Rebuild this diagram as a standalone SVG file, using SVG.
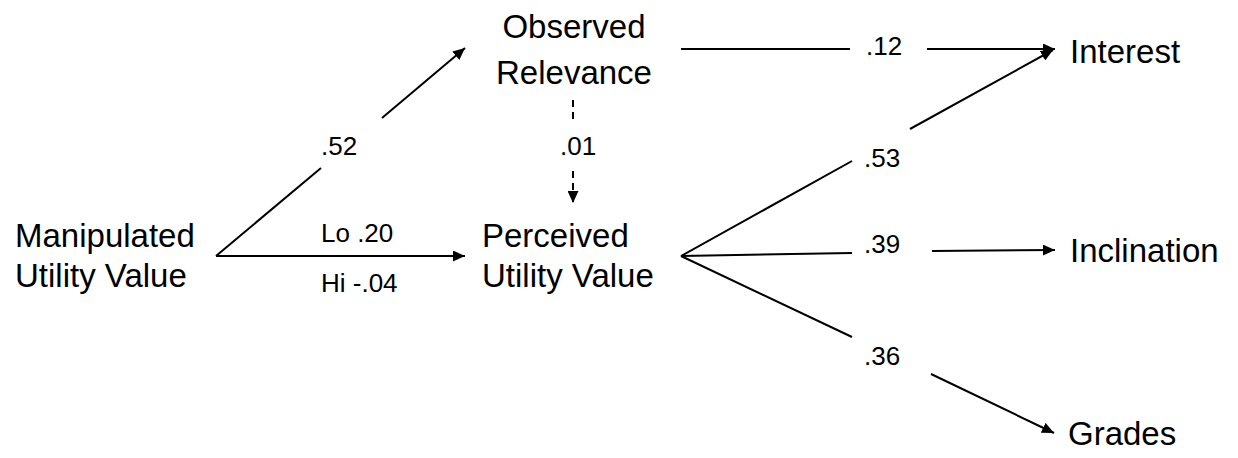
<svg xmlns="http://www.w3.org/2000/svg" width="1238" height="458" viewBox="0 0 1238 458">
  <style>
    .node { font-family: "Liberation Sans", Arial, sans-serif; font-size: 33px; fill: #000; }
    .coef { font-family: "Liberation Sans", Arial, sans-serif; font-size: 26px; fill: #000; }
    .edge { fill: none; stroke: #000; stroke-width: 2; }
    .dashed { stroke-dasharray: 7 5; }
  </style>
  <defs>
    <marker id="arrow" markerUnits="userSpaceOnUse" markerWidth="12" markerHeight="11" refX="12" refY="5.5" orient="auto">
      <path d="M0,0 L12,5.5 L0,11 z" fill="#000"/>
    </marker>
  </defs>
  <rect width="1238" height="458" fill="#fff"/>

  <!-- path connectors, split around their coefficient labels -->
  <g id="connectors">
    <!-- Manipulated -> Observed Relevance -->
    <line class="edge" x1="216" y1="256" x2="321" y2="168"/>
    <line class="edge" x1="382" y1="118" x2="465" y2="48" marker-end="url(#arrow)"/>
    <!-- Manipulated -> Perceived -->
    <line class="edge" x1="216" y1="256" x2="465" y2="256" marker-end="url(#arrow)"/>
    <!-- Observed Relevance -> Perceived (dashed) -->
    <line class="edge dashed" x1="573" y1="100" x2="573" y2="120"/>
    <line class="edge dashed" x1="573" y1="171" x2="573" y2="203" marker-end="url(#arrow)"/>
    <!-- Observed Relevance -> Interest -->
    <line class="edge" x1="681" y1="49" x2="850" y2="49"/>
    <line class="edge" x1="927" y1="49" x2="1055" y2="49" marker-end="url(#arrow)"/>
    <!-- Perceived -> Interest -->
    <line class="edge" x1="681" y1="256" x2="852" y2="161"/>
    <line class="edge" x1="910" y1="129" x2="1053" y2="50" marker-end="url(#arrow)"/>
    <!-- Perceived -> Inclination -->
    <line class="edge" x1="681" y1="256" x2="852" y2="253"/>
    <line class="edge" x1="932" y1="251" x2="1055" y2="250" marker-end="url(#arrow)"/>
    <!-- Perceived -> Grades -->
    <line class="edge" x1="681" y1="256" x2="852" y2="337"/>
    <line class="edge" x1="931" y1="374" x2="1054" y2="433" marker-end="url(#arrow)"/>
  </g>

  <!-- coefficients -->
  <g id="coefficients">
    <text class="coef" x="321" y="155">.52</text>
    <text class="coef" x="321" y="242">Lo .20</text>
    <text class="coef" x="321" y="292">Hi -.04</text>
    <text class="coef" x="560" y="155">.01</text>
    <text class="coef" x="866" y="55">.12</text>
    <text class="coef" x="864" y="167">.53</text>
    <text class="coef" x="864" y="253">.39</text>
    <text class="coef" x="864" y="365">.36</text>
  </g>

  <g id="manipulated">
    <text class="node" x="15" y="247">Manipulated</text>
    <text class="node" x="15" y="287">Utility Value</text>
  </g>
  <g id="observed">
    <text class="node" x="574" y="38" text-anchor="middle">Observed</text>
    <text class="node" x="574" y="84" text-anchor="middle">Relevance</text>
  </g>
  <g id="perceived">
    <text class="node" x="482" y="247">Perceived</text>
    <text class="node" x="482" y="287">Utility Value</text>
  </g>
  <g id="interest">
    <text class="node" x="1070" y="63">Interest</text>
  </g>
  <g id="inclination">
    <text class="node" x="1070" y="262">Inclination</text>
  </g>
  <g id="grades">
    <text class="node" x="1068" y="445">Grades</text>
  </g>
</svg>
